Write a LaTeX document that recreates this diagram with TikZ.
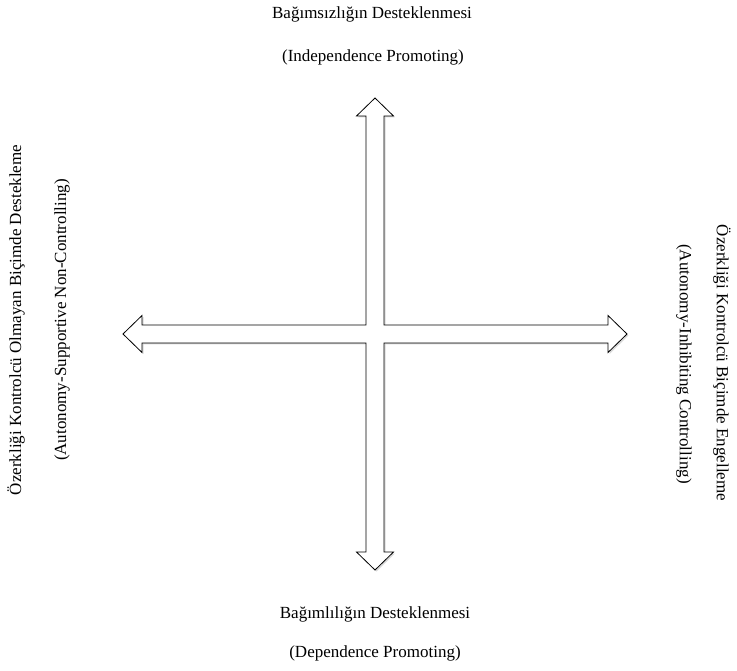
\documentclass[tikz,border=0pt]{standalone}
\usepackage{fontspec}
\setmainfont{Liberation Serif}
\begin{document}
\begin{tikzpicture}[x=1pt,y=-1pt,
  lbl/.style={inner sep=0pt,font=\fontsize{17}{20}\selectfont},
  crossshape/.style={draw=black,line width=0.8pt,fill=white,line join=miter},
  shadowshape/.style={fill=black!15,draw=none}]
\useasboundingbox (0,0) rectangle (737,671);
\def\crosspath{(375,98) -- (393.5,116) -- (384,116) -- (384,325) -- (608,325) -- (608,315.5) -- (627,334) -- (608,352.5) -- (608,343) -- (384,343) -- (384,552) -- (393.5,552) -- (375,570) -- (356.5,552) -- (366,552) -- (366,343) -- (142,343) -- (142,352.5) -- (123,334) -- (142,315.5) -- (142,325) -- (366,325) -- (366,116) -- (356.5,116) -- cycle}
\fill[shadowshape,shift={(1.5,1.5)}] \crosspath;
\draw[crossshape] \crosspath;
\node[lbl,anchor=base] (t1) at (372,19) {Bağımsızlığın Desteklenmesi};
\node[lbl,anchor=base] (t2) at (373,62) {(Independence Promoting)};
\node[lbl,anchor=base] (b1) at (375,618) {Bağımlılığın Desteklenmesi};
\node[lbl,anchor=base] (b2) at (375,657) {(Dependence Promoting)};
\node[lbl,rotate=90] (l1) at (16,320) {Özerkliği Kontrolcü Olmayan Biçimde Destekleme};
\node[lbl,rotate=90] (l2) at (62,320) {(Autonomy-Supportive Non-Controlling)};
\node[lbl,rotate=-90] (r1) at (722,363) {Özerkliği Kontrolcü Biçimde Engelleme};
\node[lbl,rotate=-90] (r2) at (684,364) {(Autonomy-Inhibiting Controlling)};
\end{tikzpicture}
\end{document}
